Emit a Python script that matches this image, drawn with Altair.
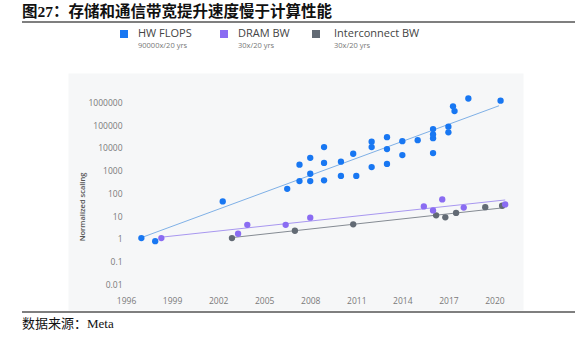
import altair as alt
import pandas as pd

# ---------------- data ----------------
series_names = ["HW FLOPS", "DRAM BW", "Interconnect BW"]
series_sub = ["90000x/20 yrs", "30x/20 yrs", "30x/20 yrs"]
series_colors = ["#1877F2", "#8A6CF2", "#626A74"]
line_colors = ["#7FB0E6", "#A897F0", "#858B93"]

hw_years = [1997.0, 1997.9, 2002.3, 2006.5, 2007.3, 2007.3, 2008.0, 2008.0, 2008.0,
            2008.9, 2008.9, 2008.9, 2010.0, 2010.0, 2010.8, 2011.0, 2012.0, 2012.0,
            2012.0, 2013.0, 2013.0, 2013.0, 2014.0, 2014.0, 2015.0, 2016.0, 2016.0,
            2016.0, 2016.0, 2017.0, 2017.0, 2017.3, 2017.4, 2018.3, 2020.4]
hw_values = [1.1, 0.8, 45, 160, 350, 1850, 350, 740, 3700,
             380, 2200, 11000, 590, 2500, 5600, 590, 1450, 11000,
             19000, 2000, 9000, 30000, 4900, 20000, 22000, 6000, 27000,
             40000, 68000, 49000, 87000, 680000, 420000, 1500000, 1200000]

dram_years = [1998.3, 2003.3, 2003.9, 2006.4, 2008.0, 2015.4, 2016.0, 2016.6, 2018.0, 2020.7]
dram_values = [1.1, 1.7, 4.2, 4.2, 8.7, 27, 18, 55, 24, 33]

ic_years = [2002.9, 2007.0, 2010.8, 2016.2, 2016.8, 2017.5, 2019.4, 2020.5]
ic_values = [1.1, 2.3, 4.4, 11, 9, 14, 25, 29]

# trend lines (start / end)
trend_years = [[1997.0, 2020.3], [1998.3, 2020.7], [2002.9, 2020.7]]
trend_values = [[1.15, 720000], [1.2, 52], [1.15, 24]]

x_ticks = [1996, 1999, 2002, 2005, 2008, 2011, 2014, 2017, 2020]
y_ticks = [0.01, 0.1, 1, 10, 100, 1000, 10000, 100000, 1000000]

title_text = "图27：存储和通信带宽提升速度慢于计算性能"
source_text = "数据来源：Meta"
y_title = "Normalized scaling"

# ---------------- build ----------------
W, H = 455, 237
FONT = "Open Sans"

pts = pd.concat([
    pd.DataFrame({"year": hw_years, "value": hw_values, "series": series_names[0]}),
    pd.DataFrame({"year": ic_years, "value": ic_values, "series": series_names[2]}),
    pd.DataFrame({"year": dram_years, "value": dram_values, "series": series_names[1]}),
], ignore_index=True)

xs = alt.Scale(domain=[1992.22, 2021.86], nice=False, zero=False)
ys = alt.Scale(type="log", domain=[0.000757, 1.98e7], nice=False)

x_enc = alt.X("year:Q", scale=xs, axis=alt.Axis(
    values=x_ticks, format="d", title=None, domain=False, ticks=False, tickSize=0,
    grid=False, labelFont=FONT, labelFontSize=8.5, labelColor="#7a7a7a",
    labelPadding=0, offset=-14, labelBaseline="top"))
y_enc = alt.Y("value:Q", scale=ys, axis=alt.Axis(
    values=y_ticks, title=None, domain=False, ticks=False, tickSize=0, grid=False,
    labelExpr="datum.value >= 1 ? format(datum.value, 'd') : format(datum.value, '~g')",
    labelFont=FONT, labelFontSize=8.5, labelColor="#7a7a7a", labelPadding=0,
    offset=-54, labelAlign="right"))

layers = []
for i, name in enumerate(series_names):
    tdf = pd.DataFrame({"year": trend_years[i], "value": trend_values[i]})
    layers.append(alt.Chart(tdf).mark_line(strokeWidth=1, color=line_colors[i]).encode(
        x=x_enc, y=y_enc))

points = alt.Chart(pts).mark_circle(size=40, opacity=1).encode(
    x=x_enc, y=y_enc,
    color=alt.Color("series:N", scale=alt.Scale(domain=series_names, range=series_colors), legend=None),
)
layers.append(points)

one = pd.DataFrame({"a": [0]})

# y axis title
layers.append(alt.Chart(one).mark_text(
    text=y_title, angle=270, font=FONT, fontSize=7.5, fontWeight=600, color="#555555",
    align="center", baseline="middle").encode(x=alt.value(15), y=alt.value(134)))

# legend
leg_sq_x = [56, 156, 248]
leg_txt_x = [70, 170, 266]
for i, name in enumerate(series_names):
    layers.append(alt.Chart(one).mark_point(shape="square", filled=True, size=64, opacity=1,
                                            color=series_colors[i]).encode(
        x=alt.value(leg_sq_x[i]), y=alt.value(-39)))
    layers.append(alt.Chart(one).mark_text(text=name, font=FONT, fontSize=11, color="#444444",
                                           align="left", baseline="middle").encode(
        x=alt.value(leg_txt_x[i]), y=alt.value(-39)))
    layers.append(alt.Chart(one).mark_text(text=series_sub[i], font=FONT, fontSize=7.5, color="#777777",
                                           align="left", baseline="middle").encode(
        x=alt.value(leg_txt_x[i]), y=alt.value(-27)))

# title, rules, source
layers.append(alt.Chart(one).mark_text(
    text=title_text, font="Liberation Serif, Noto Sans CJK SC", fontSize=15.5, fontWeight="bold",
    color="#111111", align="left", baseline="middle").encode(x=alt.value(-46), y=alt.value(-61)))
layers.append(alt.Chart(one).mark_rule(color="#555555", strokeWidth=1.5).encode(
    x=alt.value(-46), x2=alt.value(507), y=alt.value(-51)))
layers.append(alt.Chart(one).mark_rule(color="#555555", strokeWidth=1.5).encode(
    x=alt.value(-46), x2=alt.value(507), y=alt.value(239)))
layers.append(alt.Chart(one).mark_text(
    text=source_text, font="Liberation Serif, Noto Sans CJK SC", fontSize=13, color="#111111",
    align="left", baseline="middle").encode(x=alt.value(-46), y=alt.value(251)))

chart = alt.layer(*layers).properties(
    width=W, height=H,
    autosize=alt.AutoSizeParams(type="none"),
    padding={"left": 68, "top": 73, "right": 52, "bottom": 28},
    background="white",
).configure_view(fill="#f6f7f8", stroke="transparent")

chart.save("out.html", embed_options={"renderer": "svg", "actions": False})
